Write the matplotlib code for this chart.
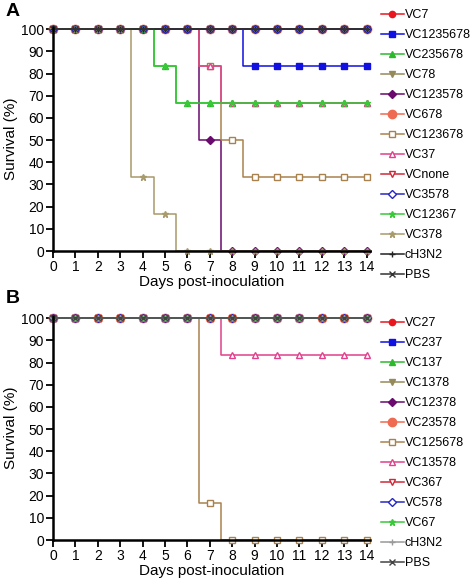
import matplotlib
matplotlib.use("Agg")
import matplotlib.pyplot as plt
import numpy as np

plt.rcParams['font.family'] = ['Liberation Sans', 'DejaVu Sans']

# days post-inoculation
days = np.arange(0, 15)

# panel A: survival (%) on each day
labels_a = ['VC7', 'VC1235678', 'VC235678', 'VC78', 'VC123578', 'VC678', 'VC123678',
            'VC37', 'VCnone', 'VC3578', 'VC12367', 'VC378', 'cH3N2', 'PBS']
surv_a = [
    [100] * 15,
    [100] * 9 + [83.3] * 6,
    [100] * 5 + [83.3] + [66.7] * 9,
    [100] * 15,
    [100] * 7 + [50] + [0] * 7,
    [100] * 15,
    [100] * 7 + [83.3, 50] + [33.3] * 6,
    [100] * 7 + [83.3] + [66.7] * 7,
    [100] * 15,
    [100] * 15,
    [100] * 5 + [83.3] + [66.7] * 9,
    [100] * 4 + [33.3, 16.7] + [0] * 9,
    [100] * 15,
    [100] * 15,
]

# panel B
labels_b = ['VC27', 'VC237', 'VC137', 'VC1378', 'VC12378', 'VC23578', 'VC125678',
            'VC13578', 'VC367', 'VC578', 'VC67', 'cH3N2', 'PBS']
surv_b = [
    [100] * 15,
    [100] * 15,
    [100] * 15,
    [100] * 15,
    [100] * 15,
    [100] * 15,
    [100] * 7 + [16.7] + [0] * 7,
    [100] * 8 + [83.3] * 7,
    [100] * 15,
    [100] * 15,
    [100] * 15,
    [100] * 15,
    [100] * 15,
]

# style per legend slot: (color, marker, filled, markersize)
styles = [
    ('#e8161e', 'o', True, 4.5),
    ('#1010e0', 's', True, 4.5),
    ('#2cb82c', '^', True, 4.5),
    ('#958a5a', 'v', True, 4.5),
    ('#6a0a6e', 'D', True, 4),
    ('#ee6a50', 'o', True, 6),
    ('#a8824e', 's', False, 5),
    ('#e0408c', '^', False, 5),
    ('#d02838', 'v', False, 5),
    ('#2828c0', 'D', False, 4.5),
    ('#38c838', '*', True, 5),
]
style_a = styles + [('#a89a6a', '*', True, 5), ('#222222', '+', True, 5), ('#333333', 'x', True, 4)]
style_b = styles + [('#999999', '+', True, 5), ('#444444', 'x', True, 4)]

fig = plt.figure(figsize=(4.72, 5.83), dpi=100)


def draw_panel(ax, labels, survs, sty, leg_top):
    for lab, s, (c, m, filled, ms) in zip(labels, survs, sty):
        ax.step(days, s, where='mid', color=c, lw=1.1, clip_on=False)
        ax.plot(days, s, ls='none', marker=m, ms=ms, color=c, mec=c,
                mfc=c if filled else 'white', mew=1, clip_on=False)
        ax.plot([], [], color=c, lw=1.1, marker=m, ms=ms, mec=c,
                mfc=c if filled else 'white', mew=1, label=lab)
    ax.set_xlim(0, 14.15)
    ax.set_ylim(0, 101)
    ax.set_xticks(range(0, 15))
    ax.set_yticks(range(0, 101, 10))
    ax.tick_params(labelsize=10, length=5, width=1.3, pad=1.5)
    for sp in ['top', 'right']:
        ax.spines[sp].set_visible(False)
    for sp in ['left', 'bottom']:
        ax.spines[sp].set_linewidth(1.8)
    ax.set_xlabel('Days post-inoculation', fontsize=11, labelpad=1)
    ax.set_ylabel('Survival (%)', fontsize=11, labelpad=2)
    ax.legend(loc='upper left', bbox_to_anchor=(381 / 472, leg_top),
              bbox_transform=fig.transFigure, frameon=False, fontsize=9,
              handlelength=1.8, handletextpad=0.1, labelspacing=0.64,
              borderpad=0, borderaxespad=0)


ax1 = fig.add_axes([53 / 472, 1 - 251 / 583, 317 / 472, 224 / 583])
ax2 = fig.add_axes([53 / 472, 1 - 540 / 583, 317 / 472, 224 / 583])

draw_panel(ax1, labels_a, surv_a, style_a, 1 - 9 / 583)
draw_panel(ax2, labels_b, surv_b, style_b, 1 - 317 / 583)

fig.text(6 / 472, 1 - 3 / 583, 'A', fontsize=14, fontweight='bold', va='top')
fig.text(6 / 472, 1 - 290 / 583, 'B', fontsize=14, fontweight='bold', va='top')

fig.savefig('out.png', dpi=100)
